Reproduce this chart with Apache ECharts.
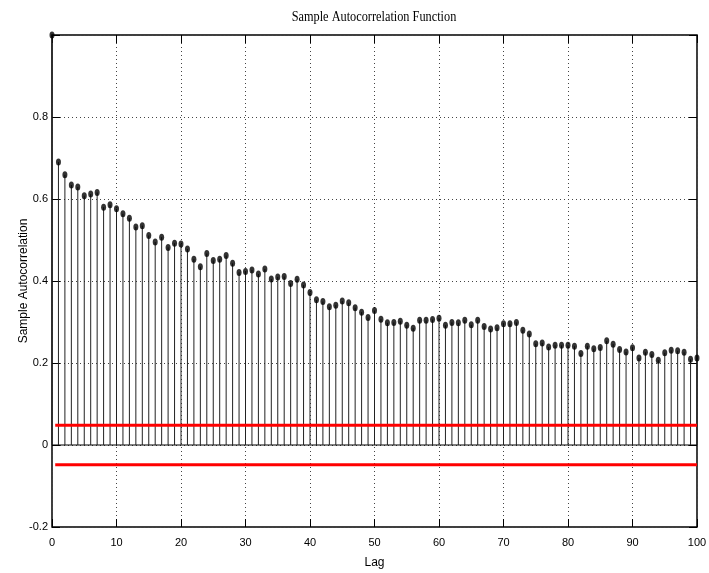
<!DOCTYPE html>
<html>
<head>
<meta charset="utf-8">
<script src="https://cdn.jsdelivr.net/npm/echarts@6/dist/echarts.min.js"></script>
<style>
  html, body { margin: 0; padding: 0; background: #fff; }
  #chart { width: 709px; height: 573px; }
</style>
</head>
<body>
<div id="chart"></div>
<script>
// Sample autocorrelation, lags 0..100
const lags = Array.from({ length: 101 }, (_, i) => i);
const acf = [
  1.000, 0.690, 0.659, 0.634, 0.629, 0.608, 0.612, 0.616, 0.580, 0.586,
  0.576, 0.564, 0.553, 0.532, 0.535, 0.511, 0.495, 0.507, 0.482, 0.492,
  0.490, 0.478, 0.453, 0.435, 0.467, 0.450, 0.453, 0.462, 0.443, 0.421,
  0.423, 0.427, 0.417, 0.429, 0.405, 0.410, 0.411, 0.394, 0.404, 0.390,
  0.372, 0.354, 0.350, 0.337, 0.341, 0.351, 0.347, 0.335, 0.324, 0.311,
  0.328, 0.307, 0.298, 0.299, 0.302, 0.292, 0.285, 0.304, 0.304, 0.306,
  0.309, 0.292, 0.299, 0.298, 0.304, 0.293, 0.304, 0.289, 0.283, 0.286,
  0.296, 0.296, 0.299, 0.280, 0.271, 0.247, 0.249, 0.239, 0.243, 0.243,
  0.243, 0.241, 0.223, 0.241, 0.235, 0.238, 0.254, 0.246, 0.233, 0.227,
  0.237, 0.212, 0.226, 0.221, 0.207, 0.225, 0.231, 0.230, 0.226, 0.209,
  0.212
];
// Approximate confidence bounds
const boundUpper = 0.048;
const boundLower = -0.048;
const boundRange = [0.5, 100];

const points = lags.map((l, i) => [l, acf[i]]);

const chart = echarts.init(document.getElementById('chart'), null, { renderer: 'canvas' });

const gridLine = { show: true, lineStyle: { color: '#444', width: 1, type: [1, 3] } };
const innerTick = { show: true, inside: true, length: 8, lineStyle: { color: '#000' } };
const noLine = { show: false, onZero: false };

chart.setOption({
  animation: false,
  backgroundColor: '#fff',
  graphic: [{
    type: 'text', x: 374, y: 17, scaleX: 0.82, silent: true,
    style: {
      text: 'Sample Autocorrelation Function',
      align: 'center', verticalAlign: 'middle',
      font: '15px "Liberation Serif"', fill: '#000'
    }
  }],
  grid: {
    left: 52, right: 12, top: 35, bottom: 46,
    outerBoundsMode: 'none', containLabel: false,
    show: true, borderColor: '#000', borderWidth: 1.5, backgroundColor: 'transparent'
  },
  xAxis: [{
    type: 'value', min: 0, max: 100, interval: 10, position: 'bottom',
    name: 'Lag', nameLocation: 'middle', nameGap: 30, nameMoveOverlap: false,
    nameTextStyle: { fontFamily: 'Liberation Sans', fontSize: 12, color: '#000' },
    axisLine: noLine,
    axisTick: innerTick,
    axisLabel: { fontFamily: 'Liberation Sans', fontSize: 11, color: '#000', margin: 10 },
    splitLine: gridLine
  }, {
    type: 'value', min: 0, max: 100, interval: 10, position: 'top',
    axisLine: noLine,
    axisTick: innerTick,
    axisLabel: { show: false }, splitLine: { show: false }
  }],
  yAxis: [{
    type: 'value', min: -0.2, max: 1, interval: 0.2, position: 'left',
    name: 'Sample Autocorrelation', nameLocation: 'middle', nameGap: 22, nameMoveOverlap: false,
    nameTextStyle: { fontFamily: 'Liberation Sans', fontSize: 12, color: '#000' },
    axisLine: noLine,
    axisTick: innerTick,
    axisLabel: {
      fontFamily: 'Liberation Sans', fontSize: 11, color: '#000', margin: 4,
      formatter: v => (Math.abs(v - 1) < 1e-9 ? '' : String(+v.toFixed(1)))
    },
    splitLine: gridLine
  }, {
    type: 'value', min: -0.2, max: 1, interval: 0.2, position: 'right',
    axisLine: noLine,
    axisTick: innerTick,
    axisLabel: { show: false }, splitLine: { show: false }
  }],
  series: [
    {
      // stem baseline at zero
      type: 'line', silent: true, symbol: 'none',
      data: [[0, 0], [100, 0]],
      lineStyle: { color: '#000', width: 1.2 }, z: 3
    },
    {
      // vertical stems
      type: 'custom', silent: true, z: 4,
      data: points,
      renderItem: (params, api) => {
        const top = api.coord([api.value(0), api.value(1)]);
        const base = api.coord([api.value(0), 0]);
        return {
          type: 'line',
          shape: { x1: top[0], y1: top[1], x2: base[0], y2: base[1] },
          style: { stroke: '#222', lineWidth: 1 }
        };
      },
      encode: { x: 0, y: 1 }
    },
    {
      // upper confidence bound
      type: 'line', silent: true, symbol: 'none',
      data: [[boundRange[0], boundUpper], [boundRange[1], boundUpper]],
      lineStyle: { color: '#ff0000', width: 3 }, z: 5
    },
    {
      // lower confidence bound
      type: 'line', silent: true, symbol: 'none',
      data: [[boundRange[0], boundLower], [boundRange[1], boundLower]],
      lineStyle: { color: '#ff0000', width: 3 }, z: 5
    },
    {
      // stem heads
      type: 'scatter', clip: false, z: 6,
      data: points,
      symbol: 'circle', symbolSize: [5, 7],
      itemStyle: { color: '#000' }
    }
  ]
});
</script>
</body>
</html>
